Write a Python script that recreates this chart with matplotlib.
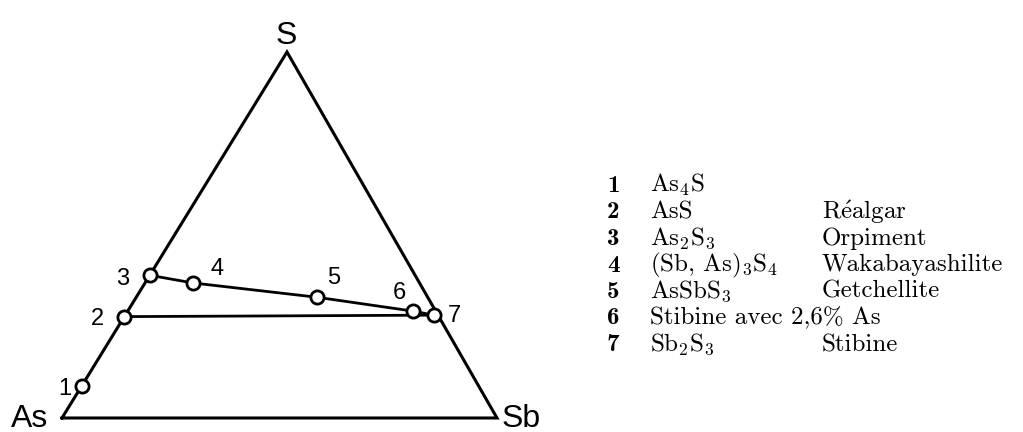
import numpy as np
import matplotlib
matplotlib.use("Agg")
import matplotlib.pyplot as plt

plt.rcParams['mathtext.fontset'] = 'cm'

# compositions (weight fractions)
labels = ['1', '2', '3', '4', '5', '6', '7']
frac_S = [0.088, 0.277, 0.39, 0.369, 0.33, 0.292, 0.281]
frac_Sb = [0.0, 0.0, 0.0, 0.11, 0.415, 0.656, 0.709]

formulas = ['As$_4$S', 'AsS', 'As$_2$S$_3$', '(Sb, As)$_3$S$_4$', 'AsSbS$_3$',
            'Stibine avec 2,6% As', 'Sb$_2$S$_3$']
names = ['', r'R$\acute{\mathrm{e}}$algar', 'Orpiment', 'Wakabayashilite', 'Getchellite', '', 'Stibine']

# triangle corners on the page (pixels)
As_xy = np.array([62.0, 418.0])
Sb_xy = np.array([497.0, 418.0])
S_xy = np.array([287.0, 52.0])


def to_xy(s, sb):
    a = 1 - s - sb
    return a * As_xy + sb * Sb_xy + s * S_xy


fig = plt.figure(figsize=(10.23, 4.32), dpi=100)
ax = fig.add_axes([0, 0, 1, 1])
ax.set_xlim(0, 1023)
ax.set_ylim(432, 0)
ax.axis('off')

tri = np.array([As_xy, Sb_xy, S_xy, As_xy])
ax.plot(tri[:, 0], tri[:, 1], color='black', lw=2.2, solid_joinstyle='miter')

pts = np.array([to_xy(s, sb) for s, sb in zip(frac_S, frac_Sb)])

# tie lines: 3-4-5-6-7 and 2-7
ax.plot(pts[2:, 0], pts[2:, 1], color='black', lw=2)
ax.plot([pts[1, 0], pts[6, 0]], [pts[1, 1], pts[6, 1]], color='black', lw=2)
ax.plot(pts[:, 0], pts[:, 1], 'o', ls='none', ms=9.5, mfc='white', mec='black', mew=2, zorder=5)

sans = ['Liberation Sans Narrow', 'Liberation Sans', 'DejaVu Sans']
offsets = [(-17, 9.5), (-27, 8.5), (-27, 9.5), (24, -7.5), (17, -13.5), (-14, -12.5), (21, 6.5)]
for (x, y), lab, (dx, dy) in zip(pts, labels, offsets):
    ax.text(x + dx, y + dy, lab, fontsize=17, family=sans, ha='center', va='baseline')

ax.text(286, 44, 'S', fontsize=23, family=sans, ha='center', va='baseline')
ax.text(48, 427, 'As', fontsize=23, family=sans, ha='right', va='baseline')
ax.text(502, 427, 'Sb', fontsize=23, family=sans, ha='left', va='baseline')

# legend table
serif = ['cmr10', 'DejaVu Serif']
for i, (lab, f, n) in enumerate(zip(labels, formulas, names)):
    y = 192 + i * 26.5
    ax.text(607, y, lab, fontsize=18, family=['cmb10', 'DejaVu Serif'], va='baseline')
    ax.text(650, y, f, fontsize=18, family=serif, va='baseline')
    ax.text(822, y, n, fontsize=18, family=serif, va='baseline')

fig.savefig('out.png', dpi=100)
